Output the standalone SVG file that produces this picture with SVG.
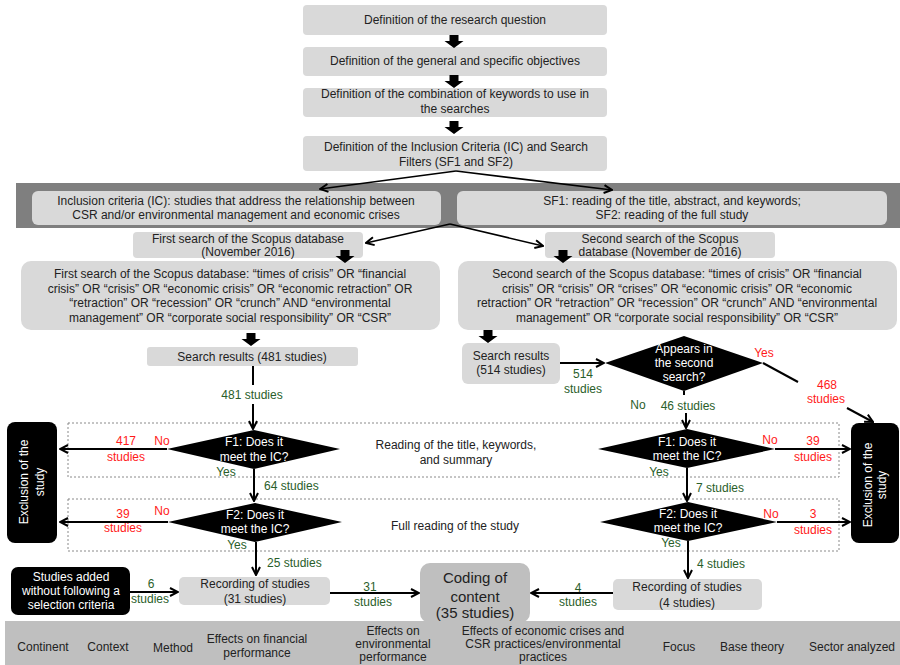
<svg xmlns="http://www.w3.org/2000/svg" width="900" height="665" viewBox="0 0 900 665">
<style>
.t{font-family:"Liberation Sans",Arial,Helvetica,sans-serif;font-size:12px;fill:#222;text-anchor:middle}
.s{text-anchor:start}
.w{fill:#fff}
.g{fill:#2a5e2a}
.r{fill:#ff1a1a}
.big{font-size:15px}
.lb{fill:#d9d9d9}
.db{fill:#bfbfbf}
.blk{fill:#000}
.dash{fill:none;stroke:#8a8a8a;stroke-width:1;stroke-dasharray:2,2}
.ln{fill:none;stroke:#000;stroke-width:2}
.thin{fill:none;stroke:#000;stroke-width:1.6}
</style>
<defs>
<marker id="arr" viewBox="0 0 10 10" refX="9" refY="5" markerWidth="10" markerHeight="10" markerUnits="userSpaceOnUse" orient="auto">
<path d="M1,1 L9,5 L1,9" fill="none" stroke="#000" stroke-width="2"/>
</marker>
<path id="ba" d="M-4.5,0 H4.5 V6 H9.5 L0,13 L-9.5,6 H-4.5 Z" fill="#000"/>
</defs>

<rect id="band" x="16" y="183" width="884" height="45" fill="#7f7f7f"/>

<g id="n1"><rect class="lb" x="303" y="5" width="304" height="30" rx="4"/>
<text class="t" x="455" y="24" textLength="182" lengthAdjust="spacingAndGlyphs">Definition of the research question</text></g>
<g id="n2"><rect class="lb" x="303" y="47" width="304" height="29" rx="4"/>
<text class="t" x="455" y="65" textLength="250" lengthAdjust="spacingAndGlyphs">Definition of the general and specific objectives</text></g>
<g id="n3"><rect class="lb" x="303" y="88" width="304" height="29" rx="4"/>
<text class="t" x="455" y="98" textLength="268" lengthAdjust="spacingAndGlyphs">Definition of the combination of keywords to use in</text>
<text class="t" x="455" y="113" textLength="69" lengthAdjust="spacingAndGlyphs">the searches</text></g>
<g id="n4"><rect class="lb" x="303" y="136" width="304" height="35" rx="4"/>
<text class="t" x="456" y="151" textLength="264" lengthAdjust="spacingAndGlyphs">Definition of the Inclusion Criteria (IC) and Search</text>
<text class="t" x="456" y="166" textLength="114" lengthAdjust="spacingAndGlyphs">Filters (SF1 and SF2)</text></g>

<g id="ic"><rect class="lb" x="32" y="191" width="409" height="34" rx="6"/>
<text class="t" x="236" y="205">Inclusion criteria (IC): studies that address the relationship between</text>
<text class="t" x="236" y="219">CSR and/or environmental management and economic crises</text></g>
<g id="sf"><rect class="lb" x="457" y="191" width="430" height="34" rx="6"/>
<text class="t" x="672" y="205">SF1: reading of the title, abstract, and keywords;</text>
<text class="t" x="672" y="219">SF2: reading of the full study</text></g>

<g id="fs"><rect class="lb" x="133" y="232" width="230" height="26" rx="4"/>
<text class="t" x="248" y="243">First search of the Scopus database</text>
<text class="t" x="248" y="256">(November 2016)</text></g>
<g id="ss"><rect class="lb" x="545" y="232" width="230" height="26" rx="4"/>
<text class="t" x="660" y="243">Second search of the Scopus</text>
<text class="t" x="660" y="256">database (November de 2016)</text></g>

<g id="fq"><rect class="lb" x="21" y="261" width="419" height="69" rx="10"/>
<text class="t" x="230" y="278">First search of the Scopus database: “times of crisis” OR “financial</text>
<text class="t" x="230" y="292.5">crisis” OR “crisis” OR “economic crisis” OR “economic retraction” OR</text>
<text class="t" x="230" y="307">“retraction” OR “recession” OR “crunch” AND “environmental</text>
<text class="t" x="230" y="321.5">management” OR “corporate social responsibility” OR “CSR”</text></g>
<g id="sq"><rect class="lb" x="458" y="261" width="439" height="69" rx="10"/>
<text class="t" x="677" y="278">Second search of the Scopus database: “times of crisis” OR “financial</text>
<text class="t" x="677" y="292.5">crisis” OR “crisis” OR “crises” OR “economic crisis” OR “economic</text>
<text class="t" x="677" y="307">retraction” OR “retraction” OR “recession” OR “crunch” AND “environmental</text>
<text class="t" x="677" y="321.5">management” OR “corporate social responsibility” OR “CSR”</text></g>

<g id="sr1"><rect class="lb" x="147" y="347" width="211" height="19" rx="3"/>
<text class="t" x="252" y="360.5">Search results (481 studies)</text></g>
<g id="sr2"><rect class="lb" x="462" y="343" width="98" height="41" rx="6"/>
<text class="t" x="511" y="360">Search results</text>
<text class="t" x="511" y="374">(514 studies)</text></g>

<g id="d0"><polygon class="blk" points="605,363 684,336 763,363 684,391"/>
<text class="t w" x="684" y="353">Appears in</text>
<text class="t w" x="684" y="367">the second</text>
<text class="t w" x="684" y="381">search?</text></g>

<rect id="dash1" class="dash" x="68" y="423" width="771" height="54"/>
<rect id="dash2" class="dash" x="68" y="499" width="771" height="52"/>
<text class="t" x="456" y="449">Reading of the title, keywords,</text>
<text class="t" x="456" y="464">and summary</text>
<text class="t" x="455" y="530">Full reading of the study</text>

<g id="f1l"><polygon class="blk" points="167,449 254,430 340,449 254,469"/>
<text class="t w" x="254" y="446">F1: Does it</text>
<text class="t w" x="254" y="461">meet the IC?</text></g>
<g id="f2l"><polygon class="blk" points="168,522 255,503 342,522 255,542"/>
<text class="t w" x="255" y="519">F2: Does it</text>
<text class="t w" x="255" y="533">meet the IC?</text></g>
<g id="f1r"><polygon class="blk" points="598,449 687,429 775,449 687,468"/>
<text class="t w" x="687" y="446">F1: Does it</text>
<text class="t w" x="687" y="460">meet the IC?</text></g>
<g id="f2r"><polygon class="blk" points="600,522 688,502 777,522 688,541"/>
<text class="t w" x="688" y="518">F2: Does it</text>
<text class="t w" x="688" y="532">meet the IC?</text></g>

<g id="exl"><rect class="blk" x="7" y="422" width="50" height="121" rx="8"/>
<text class="t w" transform="translate(32,482) rotate(-90)"><tspan x="0" y="-3.7">Exclusion of the</tspan><tspan x="0" y="12.3">study</tspan></text></g>
<g id="exr"><rect class="blk" x="851" y="423" width="48" height="120" rx="8"/>
<text class="t w" transform="translate(875,485) rotate(-90)"><tspan x="0" y="-2.7">Exclusion of the</tspan><tspan x="0" y="11.3">study</tspan></text></g>

<g id="add"><rect class="blk" x="11" y="567" width="119" height="48" rx="7"/>
<text class="t w" x="71" y="581">Studies added</text>
<text class="t w" x="71" y="595">without following a</text>
<text class="t w" x="71" y="609">selection criteria</text></g>

<g id="rec31"><rect class="lb" x="179" y="577" width="151" height="28" rx="5"/>
<text class="t" x="255" y="588">Recording of studies</text>
<text class="t" x="255" y="603">(31 studies)</text></g>
<g id="rec4"><rect class="lb" x="613" y="579" width="149" height="31" rx="5"/>
<text class="t" x="687" y="591">Recording of studies</text>
<text class="t" x="687" y="607">(4 studies)</text></g>

<g id="cod"><rect class="db" x="420" y="563" width="110" height="60" rx="10"/>
<text class="t big" x="475" y="583">Coding of</text>
<text class="t big" x="475" y="602">content</text>
<text class="t big" x="475" y="618">(35 studies)</text></g>

<g id="bottom"><rect class="db" x="5" y="621" width="895" height="44"/>
<text class="t" x="43" y="651">Continent</text>
<text class="t" x="108" y="651">Context</text>
<text class="t" x="173" y="652">Method</text>
<text class="t" x="257" y="643">Effects on financial</text>
<text class="t" x="257" y="657">performance</text>
<text class="t" x="393" y="635">Effects on</text>
<text class="t" x="393" y="648">environmental</text>
<text class="t" x="393" y="661">performance</text>
<text class="t" x="543" y="635">Effects of economic crises and</text>
<text class="t" x="543" y="648">CSR practices/environmental</text>
<text class="t" x="543" y="661">practices</text>
<text class="t" x="679" y="651">Focus</text>
<text class="t" x="752" y="651">Base theory</text>
<text class="t" x="852" y="651">Sector analyzed</text></g>

<g id="connectors">
<use href="#ba" x="454" y="35"/>
<use href="#ba" x="454" y="75"/>
<use href="#ba" x="454" y="121"/>
<use href="#ba" x="345" y="250"/>
<use href="#ba" x="563" y="250"/>
<use href="#ba" x="251" y="333"/>
<use href="#ba" x="488" y="330"/>
<path class="thin" d="M456,171 L320,189" marker-end="url(#arr)"/>
<path class="thin" d="M456,171 L612,190" marker-end="url(#arr)"/>
<path class="thin" d="M450,224 L366,243" marker-end="url(#arr)"/>
<path class="thin" d="M450,224 L543,246" marker-end="url(#arr)"/>
<path class="ln" d="M253,366 V385"/>
<path class="ln" d="M253,404 V429" marker-end="url(#arr)"/>
<path class="ln" d="M167,449 H60" marker-end="url(#arr)"/>
<path class="ln" d="M254,469 V501" marker-end="url(#arr)"/>
<path class="ln" d="M168,522 H60" marker-end="url(#arr)"/>
<path class="ln" d="M256,542 V575" marker-end="url(#arr)"/>
<path class="ln" d="M130,592 H178" marker-end="url(#arr)"/>
<path class="ln" d="M330,593 H419" marker-end="url(#arr)"/>
<path class="ln" d="M560,363 H604" marker-end="url(#arr)"/>
<path class="ln" d="M763,363 L798,382"/>
<path class="ln" d="M847,408 L873,422" marker-end="url(#arr)"/>
<path class="ln" d="M684,391 V395"/>
<path class="ln" d="M686,413 V428" marker-end="url(#arr)"/>
<path class="ln" d="M775,449 H850" marker-end="url(#arr)"/>
<path class="ln" d="M687,468 V501" marker-end="url(#arr)"/>
<path class="ln" d="M777,522 H850" marker-end="url(#arr)"/>
<path class="ln" d="M688,541 V578" marker-end="url(#arr)"/>
<path class="ln" d="M613,593 H531" marker-end="url(#arr)"/>
</g>

<g id="labels">
<text class="t g" x="252" y="399">481 studies</text>
<text class="t r" x="126" y="445">417</text>
<text class="t r" x="126" y="461">studies</text>
<text class="t r" x="162" y="445">No</text>
<text class="t g" x="226" y="476">Yes</text>
<text class="t g s" x="264" y="490">64 studies</text>
<text class="t r" x="123" y="518">39</text>
<text class="t r" x="123" y="532">studies</text>
<text class="t r" x="162" y="515">No</text>
<text class="t g" x="237" y="549">Yes</text>
<text class="t g s" x="267" y="567">25 studies</text>
<text class="t g" x="151" y="588">6</text>
<text class="t g" x="150" y="603">studies</text>
<text class="t g" x="370" y="591">31</text>
<text class="t g" x="373" y="606">studies</text>
<text class="t g" x="578" y="592">4</text>
<text class="t g" x="578" y="606">studies</text>
<text class="t g" x="583" y="378">514</text>
<text class="t g" x="583" y="393">studies</text>
<text class="t r" x="764" y="357">Yes</text>
<text class="t r" x="827" y="389">468</text>
<text class="t r" x="826" y="403">studies</text>
<text class="t g" x="638" y="409">No</text>
<text class="t g" x="688" y="410">46 studies</text>
<text class="t r" x="770" y="444">No</text>
<text class="t r" x="813" y="445">39</text>
<text class="t r" x="813" y="461">studies</text>
<text class="t g" x="659" y="476">Yes</text>
<text class="t g s" x="696" y="492">7 studies</text>
<text class="t r" x="771" y="518">No</text>
<text class="t r" x="813" y="518">3</text>
<text class="t r" x="813" y="534">studies</text>
<text class="t g" x="671" y="547">Yes</text>
<text class="t g s" x="697" y="568">4 studies</text>
</g>
</svg>
